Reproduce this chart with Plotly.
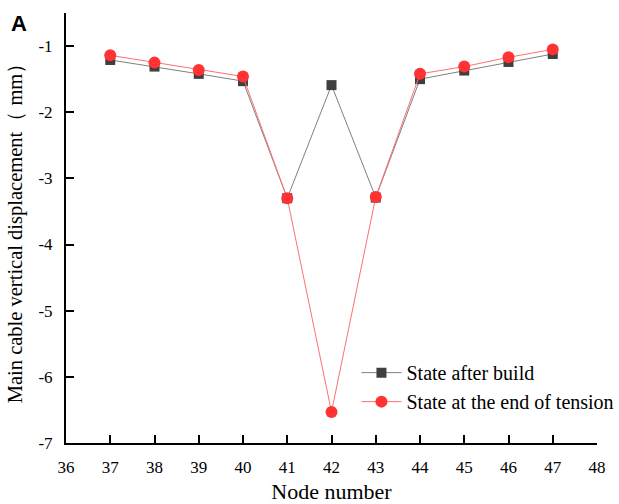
import plotly.graph_objects as go

nodes = [37, 38, 39, 40, 41, 42, 43, 44, 45, 46, 47]
after_build = [-1.21, -1.31, -1.42, -1.53, -3.30, -1.59, -3.29, -1.50, -1.37, -1.24, -1.12]
end_tension = [-1.14, -1.25, -1.36, -1.46, -3.30, -6.53, -3.28, -1.42, -1.31, -1.17, -1.05]
x_ticks = list(range(36, 49))
y_ticks = [-7, -6, -5, -4, -3, -2, -1]
y_labels = ["-7", "-6", "-5", "-4", "-3", "-2", "-1"]

serif = "Liberation Serif, Times New Roman, serif"

fig = go.Figure()
fig.add_trace(go.Scatter(
    x=nodes, y=after_build, name="State after build", mode="lines+markers",
    line=dict(color="#7f7f7f", width=1),
    marker=dict(symbol="square", size=10, color="#3f3f3f"),
))
fig.add_trace(go.Scatter(
    x=nodes, y=end_tension, name="State at the end of tension", mode="lines+markers",
    line=dict(color="#ff7070", width=1),
    marker=dict(symbol="circle", size=12, color="#ff3333"),
))

axis_common = dict(
    showline=True, linecolor="black", linewidth=2,
    ticks="inside", ticklen=8, tickwidth=2, tickcolor="black",
    showgrid=False, zeroline=False, mirror=False, automargin=False,
    tickfont=dict(family=serif, size=17, color="black"),
)
fig.update_xaxes(range=[36, 48], tickvals=x_ticks, ticklabelstandoff=8, **axis_common,
                 title=dict(text="Node number", font=dict(family=serif, size=22, color="black"), standoff=16))
fig.update_yaxes(range=[-7, -0.5], tickvals=y_ticks, ticktext=y_labels, ticklabelstandoff=8, **axis_common,
                 title=dict(text="Main cable vertical displacement（ mm）",
                            font=dict(family=serif, size=20.5, color="black"), standoff=10))

# figure is a little wider than the window (extra right margin is off-screen)
# so the legend, which reaches the window edge, never pushes the plot margins
fig.update_layout(
    width=650, height=504,
    margin=dict(l=66, r=53, t=13, b=61),
    plot_bgcolor="white", paper_bgcolor="white",
    legend=dict(x=0.547, y=0.209, xanchor="left", yanchor="top",
                font=dict(family=serif, size=20, color="black"),
                bgcolor="rgba(0,0,0,0)", itemwidth=40, tracegroupgap=0),
    annotations=[dict(text="<b>A</b>", x=0, y=1, xref="paper", yref="paper",
                      xanchor="left", yanchor="top", xshift=-57, yshift=4,
                      showarrow=False, font=dict(family="Liberation Sans, Arial", size=22, color="black"))],
)
fig.write_html(
    "out.html",
    config={"displayModeBar": False},
    post_script="document.body.style.margin='0';document.body.style.overflow='hidden';",
)
